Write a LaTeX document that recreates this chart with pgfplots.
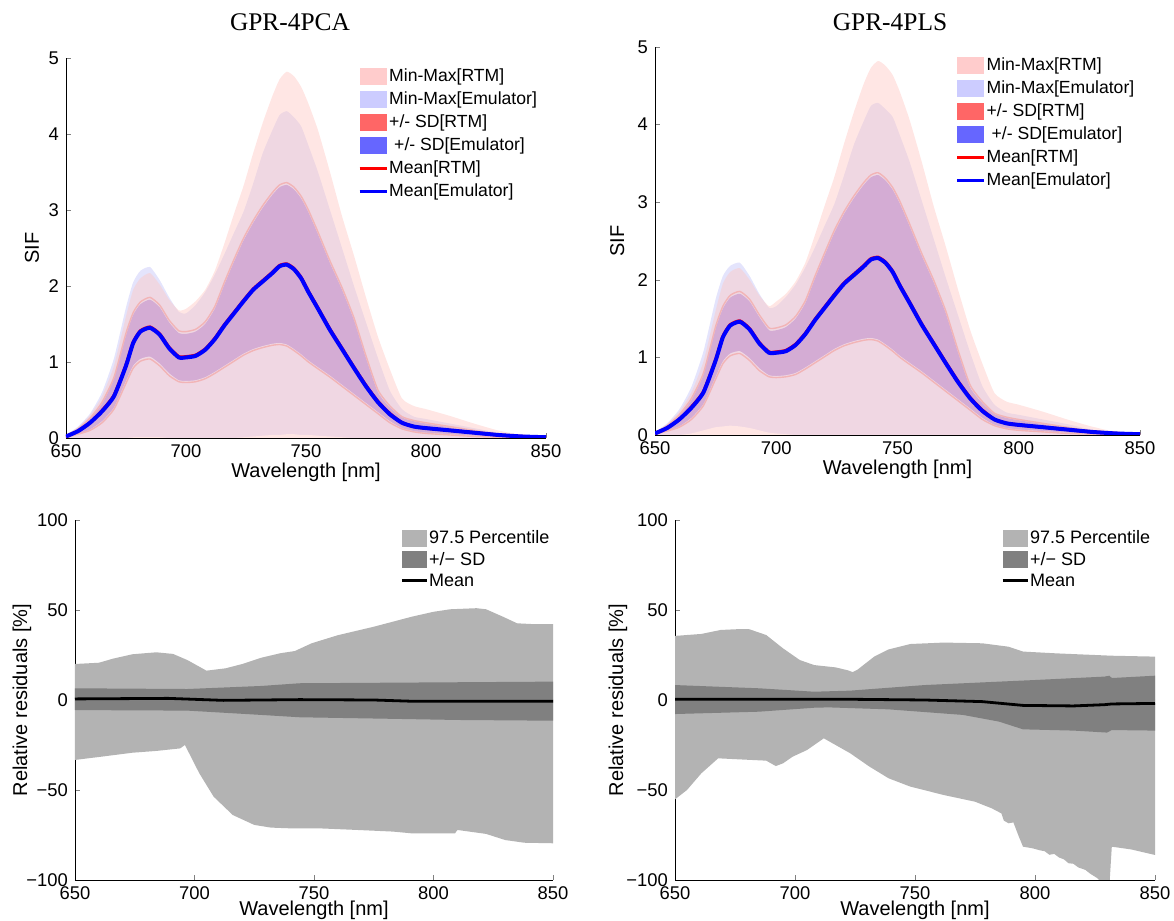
\documentclass[border=0pt]{standalone}
\usepackage{fontspec}
\setmainfont{Liberation Sans}
\newfontfamily\titlefont{Liberation Serif}
\usepackage{pgfplots}
\usepackage{pgfplotstable}
\pgfplotsset{compat=1.18}

\definecolor{mmE}{RGB}{228,228,252}
\definecolor{mmRt}{RGB}{255,199,194}
\definecolor{ovl}{RGB}{240,215,227}
\definecolor{pinkP}{RGB}{255,230,228}
\definecolor{sdE}{RGB}{212,172,212}
\definecolor{sdRedge}{RGB}{242,180,182}
\definecolor{lgA}{RGB}{255,204,204}
\definecolor{lgB}{RGB}{204,204,255}
\definecolor{lgC}{RGB}{255,102,102}
\definecolor{lgD}{RGB}{102,102,255}
\definecolor{pct}{RGB}{179,179,179}
\definecolor{sdg}{RGB}{128,128,128}

\newcommand\lstrut{\rule[-2.3pt]{0pt}{9.2pt}}

\pgfplotsset{
  panel/.style={scale only axis, axis lines*=left, tick align=inside,
    xmin=650, xmax=850, xtick={650,700,750,800,850},
    tick label style={font=\fontsize{9.2}{11}\selectfont},
    label style={font=\fontsize{9.2}{11}\selectfont},
    /pgf/number format/assume math mode=true,
    major tick length=2.5pt,
    xlabel={Wavelength [nm]},
    legend cell align=left},
  xlab/.style={every axis x label/.style={at={(axis description cs:0.5,0)}, anchor=center, yshift=-#1}},
  ylab/.style={every axis y label/.style={at={(axis description cs:#1,0.5)}, anchor=center, rotate=90}},
  sm/.style={smooth, tension=0.35},
  patchleg/.style={legend image code/.code={\fill[draw=none] (0pt,-4.3pt) rectangle (13.5pt,4.3pt);}},
  patchlegb/.style={legend image code/.code={\fill[draw=none] (0pt,-4.3pt) rectangle (12.5pt,4.3pt);}},
  linleg/.style={legend image code/.code={\draw (0pt,0pt) -- (13.5pt,0pt);}},
  linlegb/.style={legend image code/.code={\draw (0pt,0pt) -- (12.5pt,0pt);}},
  toplegend/.style={legend style={anchor=north west, draw=none, fill=none, inner sep=0pt,
    row sep=2.1pt, font=\fontsize{8.8}{10}\selectfont, nodes={inner sep=0.5pt}}},
  botlegend/.style={legend style={anchor=north west, draw=none, fill=none, inner sep=0pt,
    row sep=1.2pt, font=\fontsize{9}{10}\selectfont, nodes={inner sep=0.5pt}}},
}

\pgfplotstableread{
x rmax emax emin rsu rsl esu esl rmean emean
650 0.04 0.04 0 0.03 0.01 0.03 0.01 0.02 0.02
655 0.14 0.15 0 0.12 0.05 0.11 0.05 0.09 0.09
660 0.30 0.32 0 0.26 0.10 0.25 0.11 0.20 0.20
665 0.55 0.60 0 0.47 0.20 0.45 0.22 0.36 0.35
670 0.95 1.05 0 0.80 0.38 0.78 0.40 0.56 0.55
675 1.60 1.72 0 1.38 0.72 1.35 0.75 0.96 0.95
678 1.95 2.05 0.01 1.65 0.92 1.62 0.95 1.26 1.25
681 2.10 2.20 0.01 1.79 1.01 1.76 1.04 1.41 1.40
685 2.17 2.25 0.01 1.85 1.04 1.82 1.07 1.46 1.45
689 2.02 2.08 0.01 1.75 0.95 1.72 0.98 1.37 1.36
693 1.82 1.85 0 1.55 0.82 1.52 0.85 1.19 1.18
697 1.68 1.66 0 1.41 0.74 1.38 0.76 1.07 1.06
700 1.70 1.64 0 1.40 0.73 1.37 0.75 1.07 1.06
704 1.80 1.75 0 1.43 0.74 1.40 0.76 1.09 1.08
708 1.95 1.92 0 1.53 0.78 1.50 0.80 1.17 1.16
712 2.20 2.15 0 1.73 0.85 1.70 0.87 1.31 1.30
716 2.56 2.42 0 2.05 0.93 2.02 0.95 1.49 1.48
720 2.95 2.70 0 2.35 1.01 2.32 1.03 1.65 1.64
724 3.32 2.98 0.01 2.63 1.09 2.60 1.11 1.81 1.80
728 3.75 3.35 0.02 2.86 1.15 2.83 1.17 1.96 1.95
732 4.15 3.75 0.03 3.06 1.19 3.03 1.21 2.07 2.06
736 4.50 4.05 0.04 3.23 1.22 3.20 1.24 2.18 2.17
739 4.72 4.25 0.04 3.33 1.23 3.30 1.25 2.27 2.26
742 4.82 4.30 0.05 3.36 1.21 3.33 1.23 2.29 2.28
745 4.76 4.22 0.05 3.30 1.15 3.27 1.17 2.23 2.22
748 4.62 4.10 0.04 3.18 1.08 3.15 1.10 2.11 2.10
751 4.40 3.85 0.04 3.00 1.00 2.97 1.02 1.93 1.92
755 4.05 3.50 0.03 2.71 0.91 2.68 0.93 1.71 1.70
760 3.50 3.00 0.02 2.33 0.80 2.30 0.82 1.43 1.42
765 2.92 2.50 0.01 1.98 0.68 1.95 0.70 1.18 1.17
770 2.40 2.00 0 1.58 0.56 1.55 0.58 0.93 0.92
775 1.85 1.52 0 1.08 0.44 1.05 0.46 0.69 0.68
780 1.33 1.05 0 0.63 0.32 0.60 0.34 0.48 0.47
785 0.90 0.62 0 0.42 0.20 0.40 0.22 0.32 0.31
790 0.52 0.38 0 0.28 0.12 0.27 0.13 0.20 0.20
795 0.42 0.28 0 0.23 0.08 0.22 0.09 0.15 0.15
800 0.38 0.25 0 0.20 0.06 0.19 0.07 0.13 0.13
810 0.29 0.19 0 0.15 0.04 0.14 0.05 0.10 0.10
820 0.19 0.13 0 0.10 0.02 0.09 0.03 0.07 0.07
830 0.10 0.07 0 0.05 0.01 0.05 0.02 0.04 0.04
840 0.04 0.03 0 0.02 0 0.02 0.01 0.02 0.02
850 0.01 0.01 0 0.01 0 0.01 0 0.01 0.01
}\pca

\pgfplotstableread{
x rmax emax emin rsu rsl esu esl rmean emean
650 0.04 0.04 0 0.03 0.01 0.03 0.01 0.02 0.02
655 0.14 0.15 0 0.12 0.05 0.11 0.05 0.09 0.09
660 0.30 0.33 0 0.26 0.10 0.25 0.11 0.20 0.20
665 0.55 0.62 0.02 0.47 0.20 0.45 0.22 0.36 0.35
670 0.95 1.08 0.06 0.80 0.38 0.78 0.40 0.56 0.55
675 1.60 1.75 0.10 1.40 0.72 1.37 0.75 0.97 0.96
678 1.95 2.05 0.11 1.66 0.92 1.63 0.95 1.27 1.26
681 2.10 2.18 0.12 1.80 1.02 1.77 1.05 1.42 1.41
685 2.15 2.22 0.11 1.85 1.05 1.82 1.08 1.47 1.46
689 2.00 2.05 0.09 1.75 0.96 1.72 0.99 1.37 1.36
693 1.80 1.82 0.06 1.55 0.83 1.52 0.86 1.19 1.18
697 1.66 1.64 0.03 1.38 0.75 1.35 0.77 1.07 1.06
700 1.72 1.66 0.02 1.38 0.74 1.35 0.76 1.07 1.06
704 1.82 1.78 0.01 1.42 0.75 1.39 0.77 1.09 1.08
708 1.98 1.94 0 1.53 0.78 1.50 0.80 1.17 1.16
712 2.22 2.16 0 1.73 0.85 1.70 0.87 1.31 1.30
716 2.58 2.42 0 2.05 0.93 2.02 0.95 1.49 1.48
720 2.96 2.70 0 2.35 1.01 2.32 1.03 1.65 1.64
724 3.33 2.98 0 2.64 1.09 2.61 1.11 1.81 1.80
728 3.76 3.35 0 2.88 1.15 2.85 1.17 1.96 1.95
732 4.16 3.74 0 3.08 1.19 3.05 1.21 2.07 2.06
736 4.52 4.04 0 3.25 1.22 3.22 1.24 2.18 2.17
739 4.73 4.24 0 3.35 1.23 3.32 1.25 2.27 2.26
742 4.82 4.28 0 3.38 1.21 3.35 1.23 2.29 2.28
745 4.76 4.20 0 3.31 1.15 3.28 1.17 2.23 2.22
748 4.64 4.10 0 3.19 1.08 3.16 1.10 2.11 2.10
751 4.42 3.86 0 3.01 1.00 2.98 1.02 1.93 1.92
755 4.06 3.52 0 2.72 0.91 2.69 0.93 1.71 1.70
760 3.52 3.02 0 2.34 0.80 2.31 0.82 1.43 1.42
765 2.94 2.52 0 1.99 0.68 1.96 0.70 1.18 1.17
770 2.42 2.02 0 1.59 0.56 1.56 0.58 0.93 0.92
775 1.87 1.54 0 1.09 0.44 1.06 0.46 0.69 0.68
780 1.35 1.06 0 0.64 0.32 0.61 0.34 0.48 0.47
785 0.92 0.63 0 0.43 0.20 0.41 0.22 0.32 0.31
790 0.54 0.39 0 0.28 0.12 0.27 0.13 0.20 0.20
795 0.43 0.29 0 0.23 0.08 0.22 0.09 0.15 0.15
800 0.39 0.26 0 0.20 0.06 0.19 0.07 0.13 0.13
810 0.30 0.20 0 0.15 0.04 0.14 0.05 0.10 0.10
820 0.20 0.14 0 0.10 0.02 0.09 0.03 0.07 0.07
830 0.11 0.07 0 0.05 0.01 0.05 0.02 0.04 0.04
840 0.04 0.03 0 0.02 0 0.02 0.01 0.02 0.02
850 0.01 0.01 0 0.01 0 0.01 0 0.01 0.01
}\pls

\pgfplotstableread{
x y
650 20
660 20.7
666 23
674 25.4
684 26.5
691 25.6
697 22.2
705 16.3
713 17.6
720 20
728 23.5
736 26
742 27.2
749 31.5
760 36
775 40.7
791 46.3
800 49
807 50.4
818 51
822 50.4
829 46.3
835 42.6
841 42.2
850 42.2
}\aUp
\pgfplotstableread{
x y
650 -33.3
661 -31.5
674 -29.3
684 -28.3
694 -26.9
696 -25
702 -40.7
708 -53.7
716 -63.9
725 -69.4
732 -70.9
740 -71.3
752 -71.3
768 -72.2
783 -73.1
791 -74.1
809 -74.1
810 -72.2
822 -74.4
830 -77.8
838 -79.3
850 -79.6
}\aLo
\pgfplotstableread{
x y
650 6.5
697 6.1
728 7.8
744 9.3
780 9.6
850 10.2
}\aSu
\pgfplotstableread{
x y
650 -5.6
697 -5.9
728 -8.3
744 -9.6
780 -10.4
810 -11.1
850 -11.5
}\aSl
\pgfplotstableread{
x y
650 0.6
689 0.9
712 -0.2
744 0.2
775 0
791 -0.7
850 -0.7
}\aMe

\pgfplotstableread{
x y
650 35.6
661 36.7
669 38.9
677 39.4
681 39.3
688 36.1
695 28.7
702 22.2
708 19.4
717 18.1
722 16.5
724 15.5
726 16.8
733 24.1
739 28.1
748 31.1
762 31.9
778 31.5
789 29.6
795 26.9
809 25.9
832 24.6
850 24.1
}\bUp
\pgfplotstableread{
x y
650 -55.2
655 -50
661 -40.7
668 -32.4
677 -33
688 -33.7
692 -36.7
695 -35.2
699 -31.5
705 -27.8
712 -21.3
723 -29.6
731 -37
739 -43.5
748 -48.1
762 -52.8
775 -56.5
782 -60.2
786 -63
787 -67
789 -68.5
791 -68
793 -75
795 -81.5
799 -82.4
802 -83.5
804 -84
806 -86
808 -85.5
810 -87.5
812 -88.5
814 -90.7
816 -91
818 -93
821 -94.4
823 -96.5
826 -99
828 -102
831 -103
832 -81.5
840 -83
850 -86.1
}\bLo
\pgfplotstableread{
x y
650 8.3
685 6.5
708 4.6
723 5.2
754 8.3
785 10.2
800 11.1
829 13
831 13.5
832 12.2
850 13.5
}\bSu
\pgfplotstableread{
x y
650 -7.8
685 -6.5
708 -4.3
714 -4.1
739 -5.2
770 -8.3
785 -12
795 -16.3
816 -17
830 -18.1
832 -16.7
850 -17
}\bSl
\pgfplotstableread{
x y
650 0.4
723 0.4
754 0
778 -0.9
795 -3
816 -3.3
829 -2.6
832 -2.2
850 -1.9
}\bMe

\begin{document}
\begin{tikzpicture}
\path[use as bounding box] (0pt,0pt) rectangle (587pt,460.5pt);

% ================= top left =================
\begin{axis}[panel, at={(33pt,241.5pt)}, anchor=south west, width=240pt, height=190pt,
  ymin=0, ymax=5, ytick={0,1,2,3,4,5}, ylabel={SIF}, xlab=17pt, ylab=-0.071,
  toplegend, legend style={at={(0.608,0.978)}}]
\addplot[sm, fill=mmE, draw=none, forget plot] table[x=x,y=emax]{\pca} \closedcycle;
\addplot[sm, fill=mmRt, fill opacity=0.44, draw=none, forget plot] table[x=x,y=rmax]{\pca} \closedcycle;
\addplot[sm, fill=sdE, draw=none, forget plot] table[x=x,y=esu]{\pca} \closedcycle;
\addplot[sm, fill=ovl, draw=none, forget plot] table[x=x,y=esl]{\pca} \closedcycle;
\addplot[sm, fill=pinkP, draw=none, forget plot] table[x=x,y=emin]{\pca} \closedcycle;
\addplot[sm, sdRedge, line width=0.7pt, forget plot] table[x=x,y=rsu]{\pca};
\addplot[sm, sdRedge, line width=0.7pt, forget plot] table[x=x,y=rsl]{\pca};
\addplot[sm, red, line width=1.6pt, forget plot] table[x=x,y=rmean]{\pca};
\addplot[sm, blue, line width=2pt, forget plot] table[x=x,y=emean]{\pca};
\addlegendimage{patchleg, fill=lgA}\addlegendentry{\lstrut Min-Max[RTM]}
\addlegendimage{patchleg, fill=lgB}\addlegendentry{\lstrut Min-Max[Emulator]}
\addlegendimage{patchleg, fill=lgC}\addlegendentry{\lstrut +/- SD[RTM]}
\addlegendimage{patchleg, fill=lgD}\addlegendentry{\lstrut\hspace{2.5pt}+/- SD[Emulator]}
\addlegendimage{linleg, red, line width=1.5pt}\addlegendentry{\lstrut Mean[RTM]}
\addlegendimage{linleg, blue, line width=1.5pt}\addlegendentry{\lstrut Mean[Emulator]}
\end{axis}

% ================= top right =================
\begin{axis}[panel, at={(327.5pt,243pt)}, anchor=south west, width=242.5pt, height=194pt,
  ymin=0, ymax=5, ytick={0,1,2,3,4,5}, ylabel={SIF}, xlab=17pt, ylab=-0.078,
  toplegend, legend style={at={(0.619,0.978)}}]
\addplot[sm, fill=mmE, draw=none, forget plot] table[x=x,y=emax]{\pls} \closedcycle;
\addplot[sm, fill=mmRt, fill opacity=0.44, draw=none, forget plot] table[x=x,y=rmax]{\pls} \closedcycle;
\addplot[sm, fill=sdE, draw=none, forget plot] table[x=x,y=esu]{\pls} \closedcycle;
\addplot[sm, fill=ovl, draw=none, forget plot] table[x=x,y=esl]{\pls} \closedcycle;
\addplot[sm, fill=pinkP, draw=none, forget plot] table[x=x,y=emin]{\pls} \closedcycle;
\addplot[sm, sdRedge, line width=0.7pt, forget plot] table[x=x,y=rsu]{\pls};
\addplot[sm, sdRedge, line width=0.7pt, forget plot] table[x=x,y=rsl]{\pls};
\addplot[sm, red, line width=1.6pt, forget plot] table[x=x,y=rmean]{\pls};
\addplot[sm, blue, line width=2pt, forget plot] table[x=x,y=emean]{\pls};
\addlegendimage{patchleg, fill=lgA}\addlegendentry{\lstrut Min-Max[RTM]}
\addlegendimage{patchleg, fill=lgB}\addlegendentry{\lstrut Min-Max[Emulator]}
\addlegendimage{patchleg, fill=lgC}\addlegendentry{\lstrut +/- SD[RTM]}
\addlegendimage{patchleg, fill=lgD}\addlegendentry{\lstrut\hspace{2.5pt}+/- SD[Emulator]}
\addlegendimage{linleg, red, line width=1.5pt}\addlegendentry{\lstrut Mean[RTM]}
\addlegendimage{linleg, blue, line width=1.5pt}\addlegendentry{\lstrut Mean[Emulator]}
\end{axis}

% ================= bottom left =================
\begin{axis}[panel, at={(37.5pt,20.5pt)}, anchor=south west, width=239pt, height=180pt,
  ymin=-100, ymax=100, ytick={-100,-50,0,50,100}, yticklabels={−100,−50,0,50,100},
  ylabel={Relative residuals [\%]}, xlab=15pt, ylab=-0.111,
  botlegend, legend style={at={(0.68,0.976)}}]
\addplot[fill=pct, draw=none, forget plot] table[x=x,y=y]{\aUp} \closedcycle;
\addplot[fill=pct, draw=none, forget plot] table[x=x,y=y]{\aLo} \closedcycle;
\addplot[fill=sdg, draw=none, forget plot] table[x=x,y=y]{\aSu} \closedcycle;
\addplot[fill=sdg, draw=none, forget plot] table[x=x,y=y]{\aSl} \closedcycle;
\addplot[black, line width=1.4pt, forget plot] table[x=x,y=y]{\aMe};
\addlegendimage{patchlegb, fill=pct}\addlegendentry{\lstrut 97.5 Percentile}
\addlegendimage{patchlegb, fill=sdg}\addlegendentry{\lstrut +/− SD}
\addlegendimage{linlegb, black, line width=1.4pt}\addlegendentry{\lstrut Mean}
\end{axis}

% ================= bottom right =================
\begin{axis}[panel, at={(337.5pt,20.5pt)}, anchor=south west, width=240pt, height=180pt,
  ymin=-100, ymax=100, ytick={-100,-50,0,50,100}, yticklabels={−100,−50,0,50,100},
  ylabel={Relative residuals [\%]}, xlab=15pt, ylab=-0.119,
  botlegend, legend style={at={(0.679,0.976)}}]
\addplot[fill=pct, draw=none, forget plot] table[x=x,y=y]{\bUp} \closedcycle;
\addplot[fill=pct, draw=none, forget plot] table[x=x,y=y]{\bLo} \closedcycle;
\addplot[fill=sdg, draw=none, forget plot] table[x=x,y=y]{\bSu} \closedcycle;
\addplot[fill=sdg, draw=none, forget plot] table[x=x,y=y]{\bSl} \closedcycle;
\addplot[black, line width=1.4pt, forget plot] table[x=x,y=y]{\bMe};
\addlegendimage{patchlegb, fill=pct}\addlegendentry{\lstrut 97.5 Percentile}
\addlegendimage{patchlegb, fill=sdg}\addlegendentry{\lstrut +/− SD}
\addlegendimage{linlegb, black, line width=1.4pt}\addlegendentry{\lstrut Mean}
\end{axis}

\node[font=\titlefont\fontsize{12.7}{14}\selectfont] at (145pt,449.5pt) {GPR-4PCA};
\node[font=\titlefont\fontsize{12.7}{14}\selectfont] at (445pt,449.5pt) {GPR-4PLS};
\end{tikzpicture}
\end{document}
